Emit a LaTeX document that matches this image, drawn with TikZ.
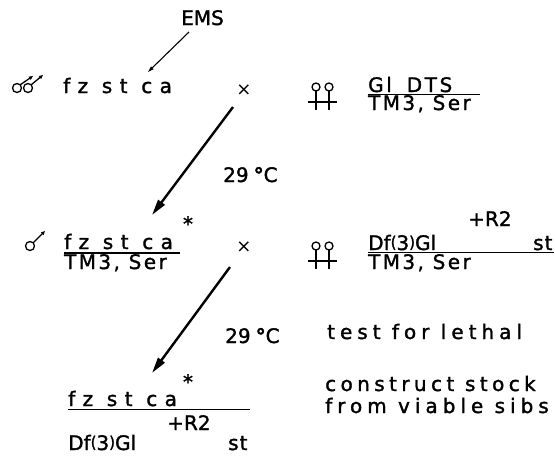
\documentclass[tikz,border=0pt]{standalone}
\usepackage{fontspec}
\usepackage{graphicx}
\setmainfont{DejaVu Sans}
\usetikzlibrary{arrows.meta}
\newcommand{\lpar}{\raisebox{2.2pt}{\scalebox{0.75}[0.8]{(}}}
\newcommand{\rpar}{\raisebox{2.2pt}{\scalebox{0.75}[0.8]{)}}}
\begin{document}
\begin{tikzpicture}[x=1pt,y=-1pt,
  lbl/.style={inner sep=0pt, anchor=base west, font=\fontsize{20}{22}\selectfont\addfontfeatures{FakeBold=1.5}},
  ls/.style={font=\fontsize{20}{22}\selectfont\addfontfeatures{LetterSpace=#1,FakeBold=1.5}},
  ul/.style={line width=1.3pt},
  sym/.style={line width=1.3pt},
  symarrow/.style={line width=1.3pt, -{Triangle[length=4pt,width=3.5pt]}},
  thin arrow/.style={line width=1.1pt, -{Triangle[length=6pt,width=3.5pt]}},
  big arrow/.style={line width=2.4pt, -{Triangle[length=16pt,width=8pt]}},
  crossmark/.style={inner sep=0pt, anchor=base, font=\fontsize{18}{20}\selectfont},
  star/.style={inner sep=0pt, anchor=base, font=\fontsize{20}{20}\selectfont\addfontfeatures{FakeBold=1.5}}]
\useasboundingbox (0,0) rectangle (555,456);

% ---------- row 1 ----------
\node[lbl] (ems) at (181,25) {EMS};
\coordinate (emsA) at (189,32);
\coordinate (emsB) at (148,72);
\draw[thin arrow] (emsA) -- (emsB);

% males
\draw[sym] (17,88) circle (4.5pt);
\draw[symarrow] (20.2,84.8) -- (33,76);
\draw[sym] (28,88) circle (4.5pt);
\draw[symarrow] (31.2,84.8) -- (43,75);

\node[lbl, ls=37] (f1) at (63,93) {fz st ca};
\node[crossmark] (x1) at (244,95) {×};

% females
\draw[sym] (316,87) circle (4pt) (329,87) circle (4pt);
\draw[sym] (316,91) -- (316,110) (329,91) -- (329,110) (308,102) -- (337,102);

\node[lbl, ls=13] (g1) at (368,92) {Gl\hspace{6pt} DTS};
\coordinate (u1a) at (368,94.5);
\coordinate (u1b) at (480,94.5);
\draw[ul] (u1a) -- (u1b);
\node[lbl, ls=12] (t1) at (368,110) {TM3, Ser};

% arrow 1
\coordinate (a1s) at (233,107);
\coordinate (a1e) at (152,215);
\draw[big arrow] (a1s) -- (a1e);
\node[lbl] (c1) at (223,182) {29\hspace{5pt}{\bfseries °}C};

% ---------- row 2 ----------
\node[star] (s2) at (188,231) {*};
\draw[sym] (30,246) circle (4.5pt);
\draw[symarrow] (33.2,242.8) -- (45,231);

\node[lbl, ls=37] (f2) at (64,249) {fz st ca};
\coordinate (u2a) at (64,253);
\coordinate (u2b) at (180,253);
\draw[ul] (u2a) -- (u2b);
\node[lbl, ls=12] (t2) at (64,269) {TM3, Ser};
\node[crossmark] (x2) at (244,252) {×};

\draw[sym] (316,246) circle (4pt) (329,246) circle (4pt);
\draw[sym] (316,250) -- (316,269) (329,250) -- (329,269) (308,261) -- (337,261);

\node[lbl] (r2) at (468,226) {+R2};
\node[lbl] (d2) at (368,250) {Df\lpar 3\rpar Gl};
\node[lbl, ls=5] (st2) at (533,250) {st};
\coordinate (u3a) at (368,252.5);
\coordinate (u3b) at (554,252.5);
\draw[ul] (u3a) -- (u3b);
\node[lbl, ls=12] (t3) at (368,269) {TM3, Ser};

% arrow 2
\coordinate (a2s) at (230,267);
\coordinate (a2e) at (152,373);
\draw[big arrow] (a2s) -- (a2e);
\node[lbl] (c2) at (225,343) {29\hspace{5pt}{\bfseries °}C};
\node[lbl, ls=25] (test) at (327,339) {test for lethal};

% ---------- row 3 ----------
\node[star] (s3) at (188,389) {*};
\node[lbl, ls=37] (f3) at (68,406) {fz st ca};
\coordinate (u4a) at (68,409.5);
\coordinate (u4b) at (250,409.5);
\draw[ul] (u4a) -- (u4b);
\node[lbl] (r3) at (167,430) {+R2};
\node[lbl] (d3) at (68,450) {Df\lpar 3\rpar Gl};
\node[lbl, ls=5] (st3) at (228,450) {st};

\node[lbl, ls=22] (cs) at (325,391) {construct stock};
\node[lbl, ls=25] (fv) at (325,413) {from viable sibs};
\end{tikzpicture}
\end{document}
